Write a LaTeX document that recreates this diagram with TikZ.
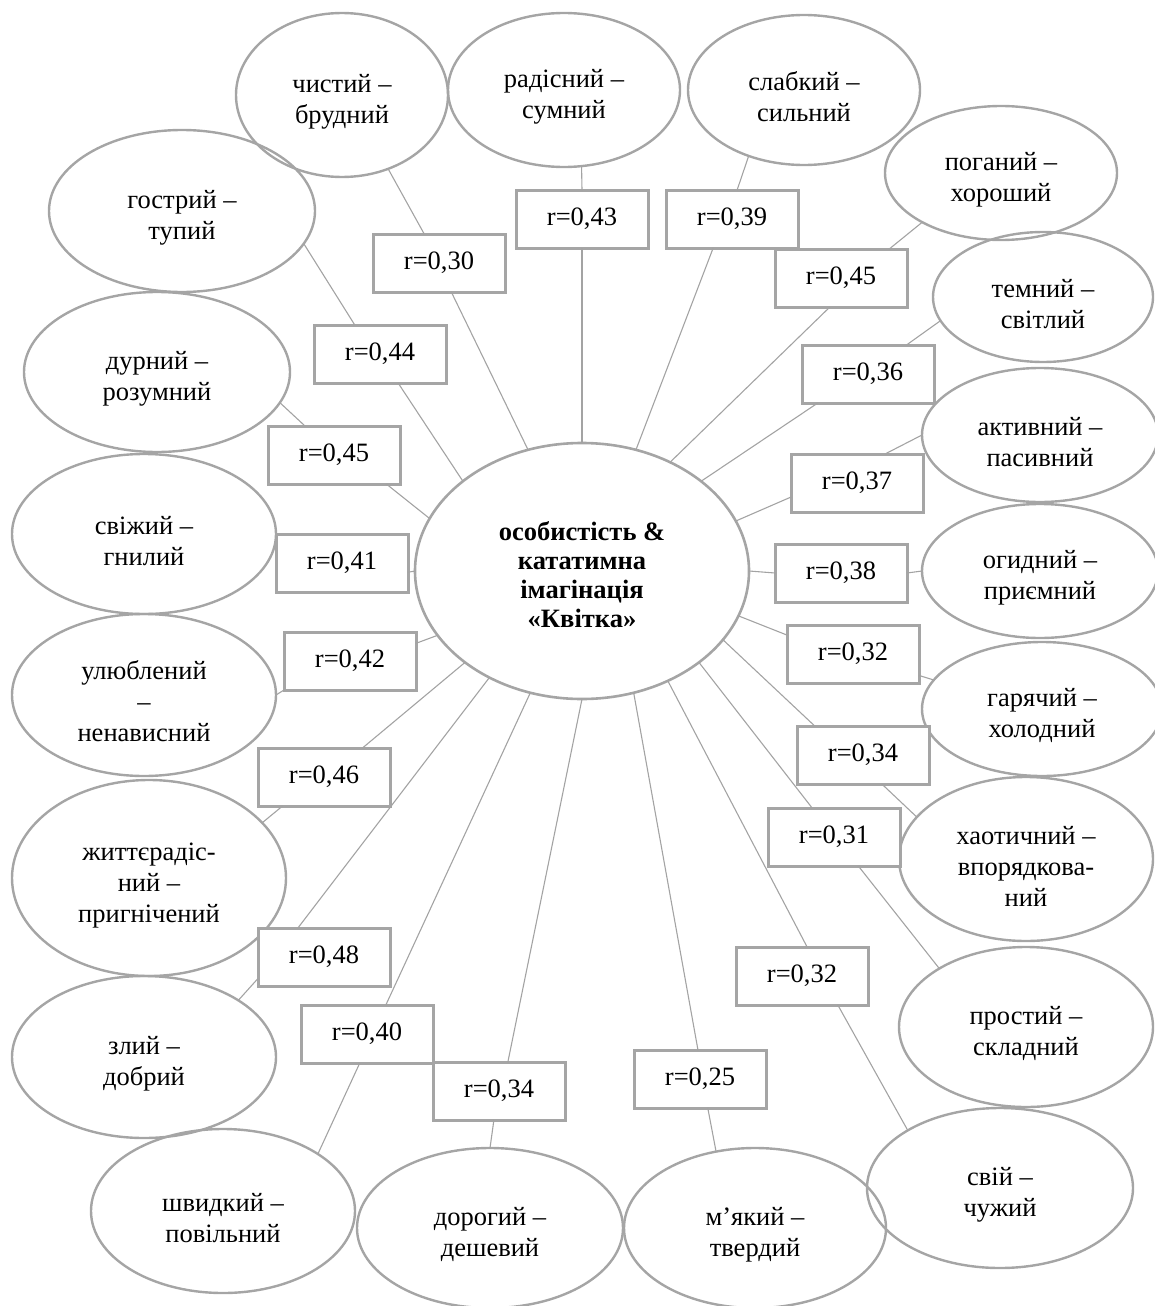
\documentclass[tikz,border=0pt]{standalone}
\usepackage{fontspec}
\setmainfont{Liberation Serif}
\usetikzlibrary{shapes.geometric}
\definecolor{edgegray}{HTML}{A5A5A5}
\definecolor{linkgray}{HTML}{A3A3A3}
\newcommand\mygapA{\rule{0pt}{32pt}}
\newcommand\mygapB{\rule{0pt}{27pt}}
\begin{document}
\begin{tikzpicture}[x=1pt,y=-1pt,
  oval/.style={ellipse, draw=edgegray, line width=2.4pt, inner sep=0pt, outer sep=0pt, align=center, font=\fontsize{26.5}{31}\selectfont},
  hub/.style={ellipse, draw=edgegray, line width=2.6pt, inner sep=0pt, outer sep=0pt, align=center, font=\fontsize{26.5}{29}\selectfont\bfseries},
  rbox/.style={rectangle, draw=edgegray, line width=3pt, fill=white, minimum width=132pt, minimum height=58pt, inner sep=0pt, outer sep=0pt, font=\fontsize{26.5}{31}\selectfont},
  link/.style={draw=linkgray, line width=1.1pt}]
\useasboundingbox (0,0) rectangle (1155,1306);

% central
\node[hub, minimum width=334pt, minimum height=256pt] (c) at (582,571) {\mygapB особистість \&\\кататимна\\імагінація\\«Квітка»};

% outer ellipses
\node[oval, minimum width=212pt, minimum height=164pt] (e1) at (342,95) {\mygapA чистий –\\брудний};
\node[oval, minimum width=232pt, minimum height=154pt] (e2) at (564,90) {\mygapA радісний –\\сумний};
\node[oval, minimum width=232pt, minimum height=150pt] (e3) at (804,90) {\mygapA слабкий –\\сильний};
\node[oval, minimum width=232pt, minimum height=134pt] (e4) at (1001,173) {\mygapA поганий –\\хороший};
\node[oval, minimum width=220pt, minimum height=130pt] (e5) at (1043,297) {\mygapA темний –\\світлий};
\node[oval, minimum width=236pt, minimum height=134pt] (e6) at (1040,435) {\mygapA активний –\\пасивний};
\node[oval, minimum width=236pt, minimum height=134pt] (e7) at (1040,571) {\mygapA огидний –\\приємний};
\node[oval, minimum width=240pt, minimum height=134pt] (e8) at (1042,709) {\mygapA гарячий –\\холодний};
\node[oval, minimum width=254pt, minimum height=164pt] (e9) at (1026,859) {\mygapA хаотичний –\\впорядкова-\\ний};
\node[oval, minimum width=254pt, minimum height=160pt] (e10) at (1026,1027) {\mygapA простий –\\складний};
\node[oval, minimum width=266pt, minimum height=160pt] (e11) at (1000,1188) {\mygapA свій –\\чужий};
\node[oval, minimum width=262pt, minimum height=160pt] (e12) at (755,1228) {\mygapA м’який –\\твердий};
\node[oval, minimum width=266pt, minimum height=160pt] (e13) at (490,1228) {\mygapA дорогий –\\дешевий};
\node[oval, minimum width=264pt, minimum height=164pt] (e14) at (223,1211) {\mygapA швидкий –\\повільний};
\node[oval, minimum width=264pt, minimum height=162pt] (e15) at (144,1057) {\mygapA злий –\\добрий};
\node[oval, minimum width=274pt, minimum height=196pt] (e16) at (149,878) {\mygapA життєрадіс-\\ний –\\пригнічений};
\node[oval, minimum width=264pt, minimum height=162pt] (e17) at (144,695) {\mygapA улюблений\\–\\ненависний};
\node[oval, minimum width=264pt, minimum height=160pt] (e18) at (144,534) {\mygapA свіжий –\\гнилий};
\node[oval, minimum width=266pt, minimum height=160pt] (e19) at (157,372) {\mygapA дурний –\\розумний};
\node[oval, minimum width=266pt, minimum height=162pt] (e20) at (182,211) {\mygapA гострий –\\тупий};

% boxes
\node[rbox] (b1) at (439,263) {r=0,30};
\node[rbox] (b2) at (582,219) {r=0,43};
\node[rbox] (b3) at (732,219) {r=0,39};
\node[rbox] (b4) at (841,278) {r=0,45};
\node[rbox] (b5) at (868,374) {r=0,36};
\node[rbox] (b6) at (857,483) {r=0,37};
\node[rbox] (b7) at (841,573) {r=0,38};
\node[rbox] (b8) at (853,654) {r=0,32};
\node[rbox] (b9) at (863,755) {r=0,34};
\node[rbox] (b10) at (834,837) {r=0,31};
\node[rbox] (b11) at (802,976) {r=0,32};
\node[rbox] (b12) at (700,1079) {r=0,25};
\node[rbox] (b13) at (499,1091) {r=0,34};
\node[rbox] (b14) at (367,1034) {r=0,40};
\node[rbox] (b15) at (324,957) {r=0,48};
\node[rbox] (b16) at (324,777) {r=0,46};
\node[rbox] (b17) at (350,661) {r=0,42};
\node[rbox] (b18) at (342,563) {r=0,41};
\node[rbox] (b19) at (334,455) {r=0,45};
\node[rbox] (b20) at (380,354) {r=0,44};

% connectors
\draw[link] (e1.-58) -- (b1.117);   \draw[link] (b1.-67) -- (c.114);
\draw[link] (e2.-77) -- (b2.north); \draw[link] (b2.south) -- (c.north);
\draw[link] (e3.-130) -- (b3.80);   \draw[link] (b3.-123) -- (c.66);
\draw[link] (e4.-148) -- (b4.31);   \draw[link] (b4.-111) -- (c.51);
\draw[link] (e5.-167) -- (b5.37);   \draw[link] (b5.-150) -- (c.37);
\draw[link] (e6.west) -- (b6.46);   \draw[link] (b6.-168) -- (c.18);
\draw[link] (e7.west) -- (b7.east); \draw[link] (b7.west) -- (c.east);
\draw[link] (e8.165) -- (b8.-18);   \draw[link] (b8.164) -- (c.-16);
\draw[link] (e9.159) -- (b9.-57);   \draw[link] (b9.149) -- (c.-26);
\draw[link] (e10.146) -- (b10.-50); \draw[link] (b10.127) -- (c.-38);
\draw[link] (e11.148) -- (b11.-39); \draw[link] (b11.80) -- (c.-52);
\draw[link] (e12.117) -- (b12.-75); \draw[link] (b12.94) -- (c.-67);
\draw[link] (e13.north) -- (b13.-100); \draw[link] (b13.73) -- (c.south);
\draw[link] (e14.31) -- (b14.-104); \draw[link] (b14.57) -- (c.-113);
\draw[link] (e15.31) -- (b15.-162); \draw[link] (b15.132) -- (c.-131);
\draw[link] (e16.26) -- (b16.-145); \draw[link] (b16.37) -- (c.-142);
\draw[link] (e17.east) -- (b17.south west); \draw[link] (b17.15) -- (c.-156);
\draw[link] (e18.east) -- (b18.north west); \draw[link] (b18.-8) -- (c.west);
\draw[link] (e19.-14) -- (b19.135); \draw[link] (b19.-29) -- (c.161);
\draw[link] (e20.-15) -- (b20.131); \draw[link] (b20.-58) -- (c.143);
\end{tikzpicture}
\end{document}
